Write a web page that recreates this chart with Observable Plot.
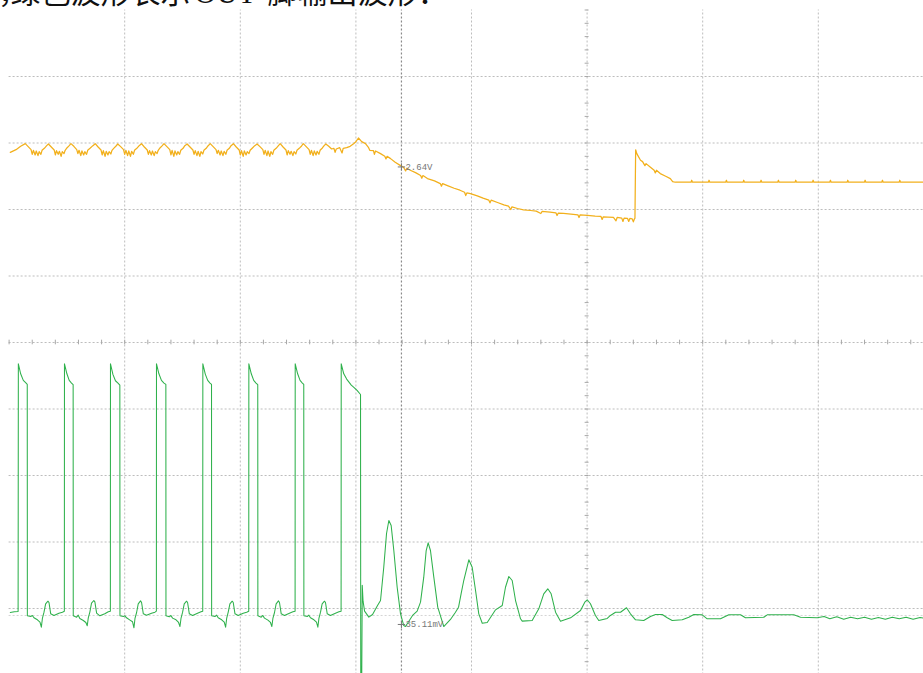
<!DOCTYPE html>
<html><head><meta charset="utf-8">
<script src="https://cdn.jsdelivr.net/npm/d3@7"></script>
<script src="https://cdn.jsdelivr.net/npm/@observablehq/plot@0.6"></script>
<style>
html,body{margin:0;padding:0;background:#fff;}
#chart svg{overflow:hidden;display:block;}
</style></head><body>
<div id="chart"></div>
<script>
// Screen units: time t = 10 units per horizontal division, level v = 10 units per vertical division (centre = 0)
const gridT = [10, 20, 30, 40, 50, 60, 70];
const gridV = [-40, -30, -20, -10, 0, 10, 20, 30, 40];
const minorTicksT = d3.range(0, 80, 2);
const minorTicksV = d3.range(-50, 51, 2);
const cursorT = [33.94];
const refLevelV = [-41.05];
const cursorLabels = ["2.64V", "35.11mV"];
const cursorLevels = [26.4, -42.4];
const titleParts = ["，", "绿色波形表示", "OUT", "脚输出波形："];

// Yellow channel (CH1) trace, [t, v]
const ch1 = [
[0.1,28.6],[0.6,29.0],[1.0,29.5],
[1.4,29.9],[1.65,29.45],[1.9,29.0],[2.0,28.3],[2.1,28.9],[2.25,28.2],[2.35,28.8],[2.5,28.1],[2.6,28.7],[2.75,28.3],[2.85,28.9],[3.05,29.2],[3.25,29.6],
[3.4,29.85],[3.65,29.4],[3.9,28.95],[4.0,28.2],[4.1,28.85],[4.25,28.3],[4.35,28.75],[4.5,28.0],[4.6,28.7],[4.75,28.4],[4.85,28.9],[5.0,29.25],[5.2,29.6],
[5.35,29.9],[5.6,29.5],[5.85,29.0],[5.95,28.4],[6.05,28.9],[6.2,28.1],[6.3,28.8],[6.45,28.2],[6.55,28.7],[6.7,28.3],[6.8,28.9],[7.0,29.2],[7.25,29.6],
[7.45,29.9],[7.7,29.4],[7.95,28.95],[8.05,28.2],[8.15,28.85],[8.3,28.0],[8.4,28.75],[8.55,28.2],[8.65,28.7],[8.8,28.35],[8.9,28.9],[9.05,29.2],[9.25,29.55],
[9.4,29.85],[9.65,29.45],[9.9,29.0],[10.0,28.3],[10.1,28.9],[10.25,28.1],[10.35,28.8],[10.5,28.0],[10.6,28.75],[10.75,28.3],[10.85,28.9],[11.05,29.2],[11.25,29.6],
[11.45,29.9],[11.7,29.4],[11.95,28.95],[12.05,28.3],[12.15,28.85],[12.3,28.2],[12.4,28.8],[12.55,28.1],[12.65,28.7],[12.8,28.4],[12.9,28.9],[13.05,29.25],[13.25,29.6],
[13.4,29.9],[13.65,29.45],[13.9,29.0],[14.0,28.2],[14.1,28.9],[14.25,28.0],[14.35,28.8],[14.5,28.2],[14.6,28.7],[14.75,28.3],[14.85,28.9],[15.05,29.2],[15.2,29.6],
[15.4,29.85],[15.65,29.4],[15.9,28.95],[16.0,28.3],[16.1,28.85],[16.25,28.1],[16.35,28.75],[16.5,28.0],[16.6,28.7],[16.75,28.35],[16.85,28.9],[17.05,29.2],[17.2,29.55],
[17.4,29.9],[17.65,29.45],[17.9,29.0],[18.0,28.4],[18.1,28.9],[18.25,28.2],[18.35,28.8],[18.5,28.1],[18.6,28.75],[18.75,28.3],[18.85,28.9],[19.05,29.2],[19.2,29.6],
[19.4,29.9],[19.65,29.4],[19.9,28.95],[20.0,28.2],[20.1,28.85],[20.25,28.0],[20.35,28.8],[20.5,28.2],[20.6,28.7],[20.75,28.4],[20.85,28.9],[21.05,29.25],[21.25,29.6],
[21.45,29.85],[21.7,29.45],[21.95,29.0],[22.05,28.3],[22.15,28.9],[22.3,28.1],[22.4,28.8],[22.55,28.0],[22.65,28.7],[22.8,28.3],[22.9,28.9],[23.1,29.2],[23.3,29.6],
[23.45,29.9],[23.7,29.4],[23.95,28.95],[24.05,28.2],[24.15,28.85],[24.3,28.3],[24.4,28.75],[24.55,28.1],[24.65,28.7],[24.8,28.35],[24.9,28.9],[25.1,29.2],[25.3,29.55],
[25.45,29.9],[25.7,29.45],[25.95,29.0],[26.05,28.3],[26.15,28.9],[26.3,28.1],[26.4,28.8],[26.55,28.2],[26.65,28.75],[26.8,28.3],[26.9,28.9],[27.1,29.25],[27.25,29.6],
[27.4,29.85],[27.65,29.5],[27.9,29.1],[28.1,29.2],[28.2,28.6],[28.3,29.1],[28.6,29.3],[28.8,28.5],[28.9,29.2],[29.2,29.3],[29.5,29.5],[29.8,29.9],[30.0,30.2],
[30.22,30.75],[30.5,30.2],[30.83,29.9],[31.1,29.3],[31.2,28.9],[31.52,28.85],[31.6,28.3],[31.7,28.8],[32.13,28.4],[32.5,28.0],[32.6,27.6],[32.7,28.0],[33.0,27.65],[33.4,27.1],[33.86,26.6],[34.12,26.35],[34.3,25.8],[34.4,26.2],[34.7,25.9],[35.16,25.55],[35.6,25.1],[35.7,24.7],[35.8,25.1],[36.19,24.65],[36.8,24.3],[37.3,23.9],[37.4,23.5],[37.5,23.9],[37.92,23.6],[38.5,23.2],[39.0,22.9],[39.4,22.6],[39.5,22.1],[39.6,22.5],[39.91,22.4],[40.5,22.05],[41.0,21.7],[41.5,21.4],[41.6,21.0],[41.7,21.4],[42.25,21.05],[42.8,20.7],[43.2,20.5],[43.4,20.0],[43.5,20.4],[43.98,20.15],[44.5,19.95],[45.1,19.85],[45.6,19.75],[46.0,19.4],[46.1,19.7],[46.8,19.6],[47.3,19.5],[47.4,19.1],[47.5,19.45],[47.96,19.4],[48.6,19.3],[49.2,19.2],[49.3,18.8],[49.4,19.2],[50.03,19.1],[50.7,19.0],[51.2,18.95],[51.3,18.5],[51.4,18.9],[51.8,18.85],[52.28,18.8],[52.5,18.3],[52.6,18.8],[53.0,18.7],[53.1,18.2],[53.2,18.7],[53.5,18.65],[53.6,18.2],[53.7,18.65],[53.9,18.6],[54.0,18.15],[54.1,18.6],[54.14,18.7],
[54.2,28.98],[54.3,28.4],[54.62,27.4],[54.8,27.2],[55.0,26.6],[55.1,26.9],[55.48,26.35],[55.8,25.9],[55.9,25.5],[56.0,25.9],[56.33,25.4],[56.8,25.0],[57.2,24.65],[57.4,24.2],[57.63,24.1],
[58.0,24.13],[59.0,24.13],[59.05,24.4],[59.1,24.13],[60.5,24.13],[60.55,24.4],[60.6,24.13],[62.0,24.13],[62.05,24.4],[62.1,24.13],[63.5,24.13],[63.55,24.4],[63.6,24.13],[65.0,24.13],[65.05,24.4],[65.1,24.13],[66.5,24.13],[66.55,24.4],[66.6,24.13],[68.0,24.13],[68.05,24.4],[68.1,24.13],[69.5,24.13],[69.55,24.4],[69.6,24.13],[71.0,24.13],[71.05,24.4],[71.1,24.13],[72.5,24.13],[72.55,24.4],[72.6,24.13],[74.0,24.13],[74.05,24.4],[74.1,24.13],[75.5,24.13],[75.55,24.4],[75.6,24.13],[77.0,24.13],[77.05,24.4],[77.1,24.13],[79.2,24.13]
];

// Green channel (CH2, OUT pin) trace, [t, v]
const ch2 = [
[0.1,-40.6],[0.45,-40.5],[0.78,-40.45],
[0.8,-3.2],[1.0,-4.7],[1.23,-5.7],[1.43,-6.05],[1.57,-6.3],[1.58,-41.1],
[1.87,-41.2],[2.01,-41.05],[2.15,-41.4],[2.45,-41.7],[2.67,-42.05],[2.79,-42.8],[2.88,-41.5],[3.02,-40.55],[3.16,-39.3],[3.36,-38.9],[3.45,-39.1],[3.6,-40.8],[3.88,-41.05],[4.31,-40.7],[4.61,-40.55],[4.78,-40.4],
[4.79,-3.2],[5.0,-4.7],[5.2,-5.7],[5.4,-6.1],[5.54,-6.35],[5.55,-41.1],
[5.84,-41.3],[5.98,-41.0],[6.12,-41.5],[6.42,-41.8],[6.64,-42.1],[6.76,-42.6],[6.85,-41.4],[6.99,-40.5],[7.13,-39.2],[7.33,-38.8],[7.42,-39.0],[7.57,-40.7],[7.85,-41.1],[8.28,-40.8],[8.58,-40.5],[8.76,-40.4],
[8.77,-3.2],[8.98,-4.8],[9.2,-5.75],[9.42,-6.1],[9.58,-6.4],[9.59,-41.1],
[9.88,-41.2],[10.02,-41.1],[10.16,-41.4],[10.46,-41.75],[10.68,-42.0],[10.8,-42.9],[10.89,-41.5],[11.03,-40.6],[11.17,-39.3],[11.37,-38.85],[11.46,-39.1],[11.61,-40.8],[11.89,-41.0],[12.32,-40.7],[12.62,-40.55],[12.74,-40.4],
[12.75,-3.2],[12.96,-4.7],[13.18,-5.7],[13.4,-6.1],[13.56,-6.3],[13.57,-41.1],
[13.86,-41.25],[14.0,-41.05],[14.14,-41.45],[14.44,-41.7],[14.66,-42.1],[14.78,-42.7],[14.87,-41.5],[15.01,-40.55],[15.15,-39.3],[15.35,-38.9],[15.44,-39.1],[15.59,-40.8],[15.87,-41.05],[16.3,-40.7],[16.6,-40.5],[16.75,-40.4],
[16.76,-3.2],[16.97,-4.75],[17.18,-5.7],[17.38,-6.1],[17.51,-6.3],[17.52,-41.1],
[17.81,-41.2],[17.95,-41.0],[18.09,-41.4],[18.39,-41.7],[18.61,-42.05],[18.73,-42.8],[18.82,-41.5],[18.96,-40.5],[19.1,-39.3],[19.3,-38.9],[19.39,-39.1],[19.54,-40.8],[19.82,-41.05],[20.25,-40.7],[20.55,-40.55],[20.73,-40.4],
[20.74,-3.2],[20.95,-4.7],[21.16,-5.7],[21.36,-6.1],[21.51,-6.35],[21.52,-41.1],
[21.81,-41.3],[21.95,-41.05],[22.09,-41.45],[22.39,-41.75],[22.61,-42.1],[22.73,-42.7],[22.82,-41.5],[22.96,-40.6],[23.1,-39.3],[23.3,-38.85],[23.39,-39.1],[23.54,-40.8],[23.82,-41.05],[24.25,-40.7],[24.55,-40.5],[24.74,-40.4],
[24.75,-3.2],[24.96,-4.7],[25.17,-5.7],[25.37,-6.1],[25.49,-6.3],[25.5,-41.1],
[25.79,-41.2],[25.93,-41.0],[26.07,-41.4],[26.37,-41.7],[26.59,-42.05],[26.71,-42.8],[26.8,-41.5],[26.94,-40.55],[27.08,-39.3],[27.28,-38.9],[27.37,-39.1],[27.52,-40.8],[27.8,-41.05],[28.23,-40.7],[28.53,-40.5],[28.72,-40.4],
[28.73,-3.2],[28.95,-4.7],[29.2,-5.5],[29.4,-5.95],[29.6,-6.4],[29.8,-6.7],[30.1,-7.2],[30.4,-7.82],
[30.42,-53],[30.5,-52],[30.55,-36.5],[30.62,-38.9],[30.75,-40.4],[31.12,-41.3],[31.44,-40.9],[31.87,-39.55],[32.13,-38.8],[32.41,-33.79],[32.65,-28.72],[32.85,-26.77],[33.05,-27.52],[33.28,-31.28],[33.57,-36.8],[33.86,-40.8],[34.14,-42.56],[34.29,-42.71],[34.9,-41.05],[35.3,-40.4],[35.59,-39.05],[35.87,-35.29],[36.08,-31.28],[36.25,-30.12],[36.45,-31.28],[36.74,-35.29],[37.08,-39.8],[37.6,-42.71],[38.18,-41.65],[38.6,-40.6],[38.88,-39.8],[39.1,-37.8],[39.33,-35.79],[39.77,-32.68],[40.06,-33.79],[40.35,-37.29],[40.63,-40.8],[40.93,-42.21],[41.36,-42.1],[42.08,-40.2],[42.66,-39.55],[42.94,-36.8],[43.23,-35.19],[43.52,-35.79],[43.81,-38.8],[44.24,-41.55],[44.39,-41.9],[45.25,-41.8],[45.82,-40.05],[46.25,-37.79],[46.6,-37.04],[46.89,-37.79],[47.27,-40.56],[47.7,-41.9],[48.57,-41.4],[49.43,-40.3],[49.8,-39.05],[50.01,-38.69],[50.29,-39.29],[50.72,-41.05],[51.01,-41.8],[51.74,-41.5],[52.02,-41.05],[52.46,-40.56],[52.89,-40.56],[53.41,-39.89],[53.75,-40.8],[54.19,-41.7],[54.9,-41.8],[55.48,-41.2],[55.92,-40.9],[56.5,-40.9],[56.93,-41.4],[57.36,-41.8],[58.23,-41.7],[58.8,-41.31],[59.23,-40.9],[59.96,-40.95],[60.39,-41.55],[61.54,-41.55],[62.26,-40.95],[63.27,-40.95],[63.7,-41.4],[65.29,-41.31],[65.58,-40.95],[67.88,-40.95],[68.46,-41.31],[69.9,-41.4],
[70.5,-41.2],[71.0,-41.55],[71.6,-41.25],[72.2,-41.6],[72.8,-41.3],[73.4,-41.55],[74.0,-41.3],[74.6,-41.6],[75.2,-41.35],[75.8,-41.6],[76.4,-41.3],[77.0,-41.55],[77.6,-41.3],[78.2,-41.6],[78.8,-41.35],[79.2,-41.45]
];

const gridStyle = {stroke: "#bdbdbd", strokeDasharray: "2,2", strokeWidth: 1};
const titleFont = {frameAnchor: "top-left", textAnchor: "start", lineAnchor: "bottom", dy: -7.5, fontSize: 30, fill: "#111", text: d => d};

const chart = Plot.plot({
  width: 923,
  height: 673,
  marginTop: 9.5, marginLeft: 8.6, marginRight: 0, marginBottom: 0,
  x: {domain: [0, 100], range: [8.6, 1164.6], axis: null},
  y: {domain: [-50, 50], range: [674.5, 9.5], axis: null},
  style: {background: "#fff", overflow: "hidden"},
  marks: [
    Plot.ruleX(gridT, {x: d => d, y1: -50, y2: 50, ...gridStyle}),
    Plot.ruleY(gridV, {y: d => d, x1: 0, x2: 100, ...gridStyle}),
    Plot.ruleY(refLevelV, {y: d => d, x1: 0, x2: 100, stroke: "#d4d4d4", strokeDasharray: "2,2"}),
    Plot.ruleX(cursorT, {x: d => d, y1: -50, y2: 50, stroke: "#8a8a8a", strokeDasharray: "2,2", strokeWidth: 1.2}),
    Plot.ruleX(minorTicksT, {x: d => d, y1: -0.35, y2: 0.35, stroke: "#a8a8a8"}),
    Plot.ruleY(minorTicksV, {y: d => d, x1: 49.83, x2: 50.17, stroke: "#a8a8a8"}),
    Plot.line(ch1, {x: d => d[0], y: d => d[1], stroke: "#f2b01c", strokeWidth: 1.25}),
    Plot.line(ch2, {x: d => d[0], y: d => d[1], stroke: "#2fb14c", strokeWidth: 1.05}),
    Plot.dot(cursorLevels, {x: () => cursorT[0], y: d => d, symbol: "plus", r: 2.5, stroke: "#777", strokeWidth: 1}),
    Plot.text(cursorLabels, {x: () => cursorT[0], y: (d, i) => cursorLevels[i], text: d => d, dx: 4, textAnchor: "start", fontSize: 9, fontFamily: "Liberation Mono, DejaVu Sans Mono, monospace", fill: "#777"}),
    Plot.text([titleParts[0]], {...titleFont, dx: -11, fontFamily: "Noto Sans CJK SC"}),
    Plot.text([titleParts[1]], {...titleFont, dx: 1.4, fontFamily: "Noto Sans CJK SC"}),
    Plot.text([titleParts[2]], {...titleFont, dx: 185.4, fontFamily: "Liberation Serif, serif"}),
    Plot.text([titleParts[3]], {...titleFont, dx: 258.4, fontFamily: "Noto Sans CJK SC"})
  ]
});
document.getElementById("chart").appendChild(chart);
</script>
</body></html>
